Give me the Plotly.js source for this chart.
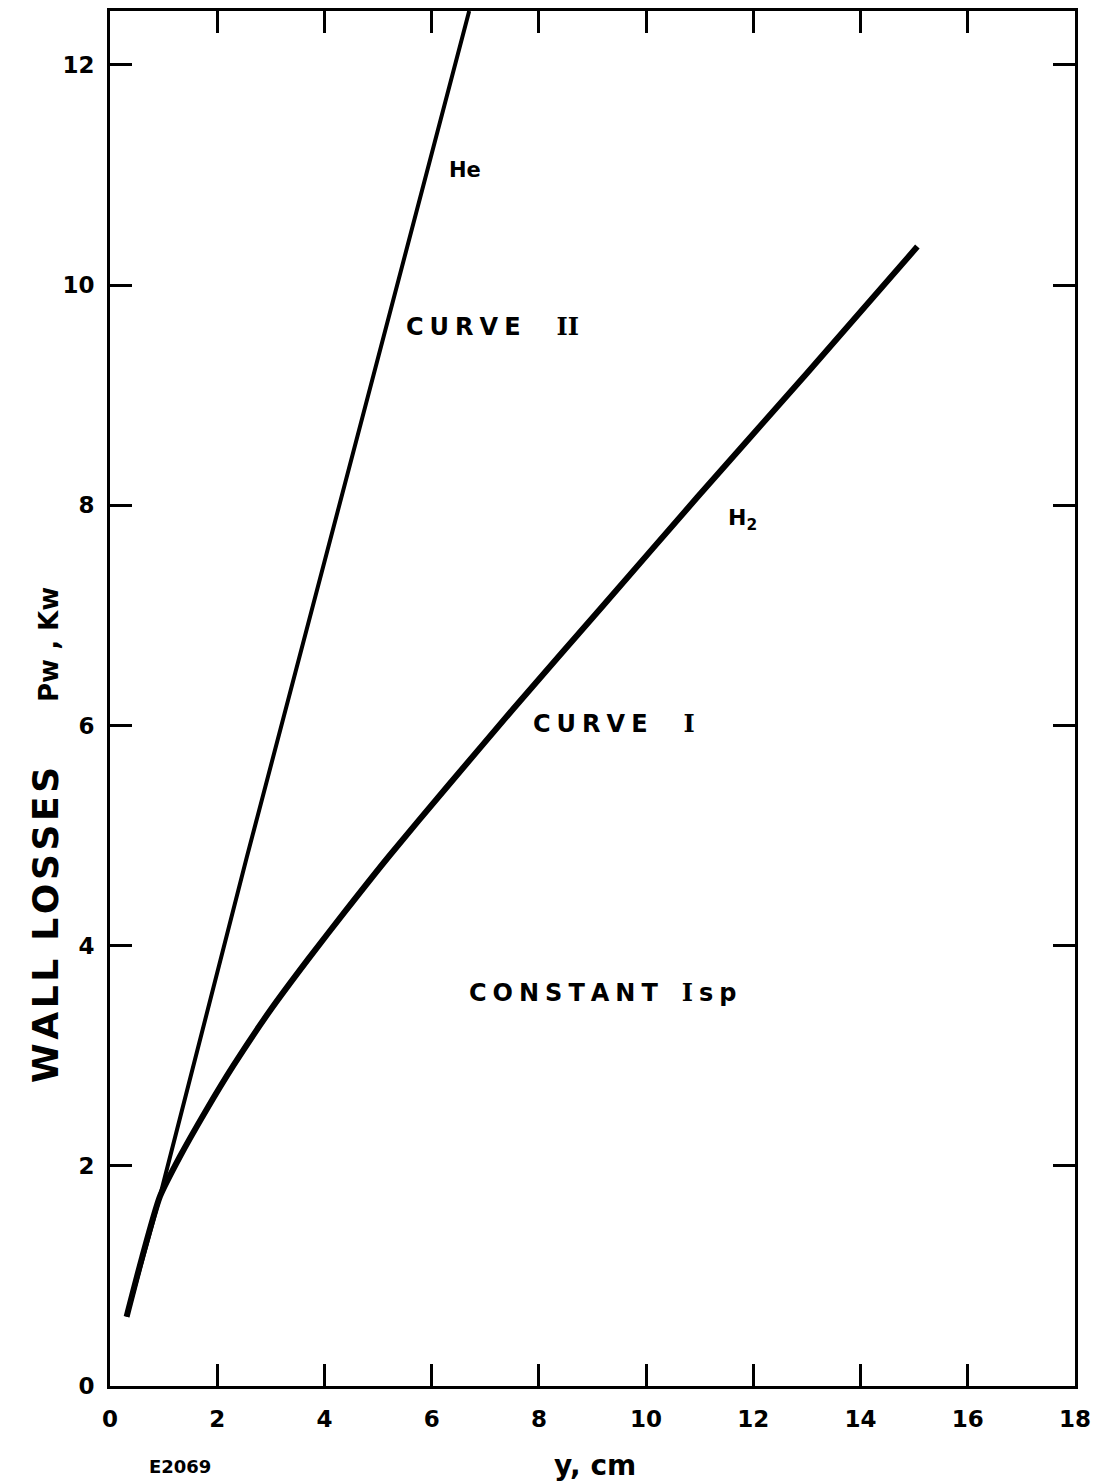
<!DOCTYPE html>
<html>
<head>
<meta charset="utf-8">
<script src="https://cdn.plot.ly/plotly-3.0.1.min.js"></script>
<style>
  html, body { margin: 0; padding: 0; background: #fff; }
  #chart { width: 1097px; height: 1481px; }
</style>
</head>
<body>
<div id="chart"></div>
<script>
// Wall losses Pw (kW) versus y (cm) for helium and hydrogen
const heY  = [0.31, 0.93, 2.55, 5.04, 6.16, 6.70];
const heP  = [0.63, 1.72, 4.80, 9.41, 11.47, 12.49];

const h2Y  = [0.31, 0.6, 0.93, 1.3, 1.8, 2.3, 3.0, 3.7, 4.4, 5.2, 6.3, 7.52, 9.2, 10.95, 13.0, 15.06];
const h2P  = [0.63, 1.17, 1.72, 2.08, 2.51, 2.91, 3.42, 3.88, 4.32, 4.81, 5.45, 6.15, 7.09, 8.07, 9.20, 10.35];

const xTicks = [0, 2, 4, 6, 8, 10, 12, 14, 16, 18];
const yTicks = [0, 2, 4, 6, 8, 10, 12];

const tickFont = { family: 'DejaVu Sans', size: 23, color: '#000', weight: 'bold' };
const labelFont = { family: 'DejaVu Sans', size: 24, color: '#000', weight: 'bold' };
// Roman numerals drawn with a slab-serif face so the bars show
const roman = s => '<span style="font-family:DejaVu Serif">' + s + '</span>';

const traces = [
  {
    x: heY, y: heP, mode: 'lines', type: 'scatter',
    line: { color: '#000', width: 4 },
    hoverinfo: 'skip', showlegend: false
  },
  {
    x: h2Y, y: h2P, mode: 'lines', type: 'scatter',
    line: { color: '#000', width: 6, shape: 'spline', smoothing: 0.6 },
    hoverinfo: 'skip', showlegend: false
  }
];

const axisCommon = {
  showgrid: false, zeroline: false,
  showline: true, linecolor: '#000', linewidth: 3,
  mirror: 'ticks', ticks: 'inside', ticklen: 22, tickwidth: 3, tickcolor: '#000',
  tickfont: tickFont
};

const layout = {
  width: 1097, height: 1481,
  paper_bgcolor: '#fff', plot_bgcolor: '#fff',
  margin: { l: 110, r: 22, t: 11, b: 95 },
  xaxis: Object.assign({}, axisCommon, {
    range: [0, 18], tickvals: xTicks, ticktext: xTicks.map(String),
    ticklabelstandoff: 10
  }),
  yaxis: Object.assign({}, axisCommon, {
    range: [0, 12.49], tickvals: yTicks, ticktext: yTicks.map(String),
    ticklabelstandoff: 8
  }),
  annotations: [
    { xref: 'x', yref: 'y', x: 6.62, y: 11.05, text: 'He', showarrow: false,
      font: { family: 'DejaVu Sans', size: 21, color: '#000', weight: 'bold' } },
    { xref: 'x', yref: 'y', x: 7.13, y: 9.62, text: 'C\u2005U\u2005R\u2005V\u2005E\u2003\u2002' + roman('II'), showarrow: false,
      font: labelFont },
    { xref: 'x', yref: 'y', x: 11.79, y: 7.87, text: 'H<sub>2</sub>', showarrow: false,
      font: { family: 'DejaVu Sans', size: 22, color: '#000', weight: 'bold' } },
    { xref: 'x', yref: 'y', x: 9.40, y: 6.02, text: 'C\u2005U\u2005R\u2005V\u2005E\u2003\u2002' + roman('I'), showarrow: false,
      font: labelFont },
    { xref: 'x', yref: 'y', x: 9.20, y: 3.57, text: 'C\u2005O\u2005N\u2005S\u2005T\u2005A\u2005N\u2005T\u2002\u2002' + roman('I') + '\u2005s\u2005p', showarrow: false,
      font: labelFont },
    { xref: 'paper', yref: 'paper', x: -0.0674, y: 0.4007, xanchor: 'center', yanchor: 'middle',
      textangle: -90, showarrow: false,
      text: '<span style="font-size:36px">W\u200aA\u200aL\u200aL\u2002L\u200aO\u200aS\u200aS\u200aE\u200aS</span>\u2003\u2003\u2002Pw , Kw',
      font: { family: 'DejaVu Sans', size: 26, color: '#000', weight: 'bold' } },
    { xref: 'paper', yref: 'paper', x: 0.5026, y: -0.0575, xanchor: 'center', yanchor: 'middle',
      showarrow: false, text: 'y, cm',
      font: { family: 'DejaVu Sans', size: 28, color: '#000', weight: 'bold' } },
    { xref: 'paper', yref: 'paper', x: 0.0725, y: -0.0589, xanchor: 'center', yanchor: 'middle',
      showarrow: false, text: 'E2069',
      font: { family: 'DejaVu Sans', size: 18, color: '#000', weight: 'bold' } }
  ]
};

Plotly.newPlot('chart', traces, layout, { staticPlot: true, displayModeBar: false });
</script>
</body>
</html>
